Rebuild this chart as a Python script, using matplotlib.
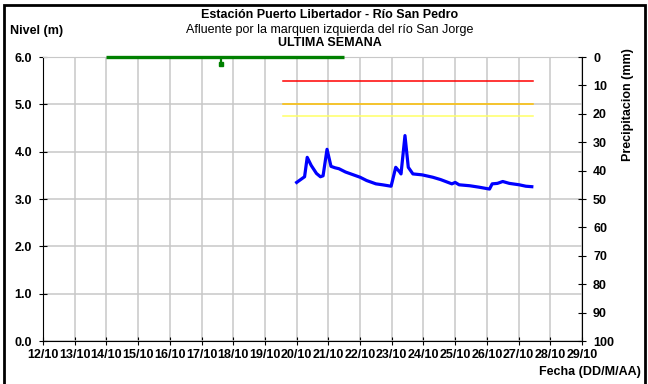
import pandas as pd
import matplotlib
matplotlib.use("Agg")
import matplotlib.pyplot as plt
import matplotlib.dates as mdates
from matplotlib.patches import Rectangle

plt.rcParams["font.family"] = ["Liberation Sans", "DejaVu Sans"]

# Nivel del rio (m)
nivel_fechas = [
    "2020-10-20 00:00", "2020-10-20 06:00", "2020-10-20 08:00", "2020-10-20 11:00",
    "2020-10-20 15:00", "2020-10-20 18:00", "2020-10-20 20:00", "2020-10-20 23:00",
    "2020-10-21 02:00", "2020-10-21 05:00", "2020-10-21 08:00", "2020-10-21 13:00",
    "2020-10-21 17:00", "2020-10-22 00:00", "2020-10-22 05:00", "2020-10-22 12:00",
    "2020-10-22 17:00", "2020-10-22 23:30", "2020-10-23 03:00", "2020-10-23 06:00",
    "2020-10-23 07:00", "2020-10-23 10:00", "2020-10-23 12:30", "2020-10-23 16:00",
    "2020-10-23 23:00", "2020-10-24 07:00", "2020-10-24 13:00", "2020-10-24 21:30",
    "2020-10-25 00:00", "2020-10-25 03:00", "2020-10-25 11:00", "2020-10-25 18:00",
    "2020-10-26 02:00", "2020-10-26 04:00", "2020-10-26 08:00", "2020-10-26 12:00",
    "2020-10-26 17:00", "2020-10-27 00:30", "2020-10-27 05:30", "2020-10-27 10:00",
]
nivel_m = [
    3.35, 3.47, 3.88, 3.71, 3.54, 3.47, 3.49, 4.05,
    3.69, 3.66, 3.64, 3.57, 3.53, 3.46, 3.39, 3.32,
    3.30, 3.27, 3.67, 3.57, 3.53, 4.34, 3.67, 3.53,
    3.51, 3.46, 3.41, 3.32, 3.35, 3.30, 3.28, 3.25,
    3.21, 3.32, 3.33, 3.37, 3.33, 3.30, 3.27, 3.26,
]

# Precipitacion (mm)
precip_fechas = ["2020-10-14 00:00", "2020-10-17 14:45", "2020-10-21 12:00"]
precip_mm = [0.0, 2.5, 0.0]

# Umbrales de alerta (m)
umbral_inicio = "2020-10-19 14:00"
umbral_fin = "2020-10-27 11:00"
umbrales = [5.5, 5.0, 4.75]
umbral_colores = ["#ff0000", "#ffc000", "#ffff66"]

# Eje de fechas
fecha_min = "2020-10-12"
fecha_max = "2020-10-29"

nivel_fechas = pd.to_datetime(nivel_fechas)
precip_fechas = pd.to_datetime(precip_fechas)

fig = plt.figure(figsize=(6.48, 3.84), dpi=100)
ax = fig.add_axes([43 / 648, 1 - 341 / 384, (582 - 43) / 648, (341 - 57) / 384])

GRID = "#c8c8c8"

for nivel, color in zip(umbrales, umbral_colores):
    ax.plot(pd.to_datetime([umbral_inicio, umbral_fin]), [nivel, nivel], color=color, lw=1.1, zorder=3)

ax.plot(nivel_fechas, nivel_m, color="#0000ff", lw=2.3, solid_joinstyle="round", zorder=4)

ax.set_xlim(pd.Timestamp(fecha_min), pd.Timestamp(fecha_max))
ax.set_ylim(0, 6)
ax.set_yticks([0, 1, 2, 3, 4, 5, 6])
ax.yaxis.set_major_formatter(plt.FormatStrFormatter("%.1f"))
ax.xaxis.set_major_locator(mdates.DayLocator())
ax.xaxis.set_major_formatter(mdates.DateFormatter("%d/%m"))
ax.grid(True, color=GRID, lw=1.1)
ax.set_axisbelow(True)
ax.tick_params(axis="both", direction="inout", length=6, width=0.8, labelsize=9, pad=3)
ax.tick_params(axis="y", pad=5)
for lab in ax.get_xticklabels() + ax.get_yticklabels():
    lab.set_fontweight("bold")
ax.spines["top"].set_color(GRID)
ax.spines["right"].set_visible(False)
for s in ["left", "bottom"]:
    ax.spines[s].set_linewidth(0.8)

# Eje secundario de precipitacion, invertido
ax2 = ax.twinx()
ax2.set_ylim(100, 0)
ax2.set_yticks(range(0, 101, 10))
ax2.tick_params(axis="y", direction="inout", length=6, width=0.8, labelsize=9, pad=5)
for lab in ax2.get_yticklabels():
    lab.set_fontweight("bold")
ax2.spines["right"].set_linewidth(0.8)
ax2.spines["top"].set_visible(False)
ax2.spines["left"].set_visible(False)
ax2.spines["bottom"].set_visible(False)

ax2.plot([precip_fechas[0], precip_fechas[-1]], [0, 0], color="#008000", lw=2.4,
         solid_capstyle="butt", clip_on=False, zorder=5)
ax2.vlines(precip_fechas, 0, precip_mm, color="#008000", lw=1.6, clip_on=False, zorder=5)
ax2.plot(precip_fechas[[m > 0 for m in precip_mm]],
         [m for m in precip_mm if m > 0], "s", color="#008000", ms=2.5, clip_on=False, zorder=5)

# Titulos y etiquetas
fig.text(330 / 648, 1 - 15 / 384, "Estación Puerto Libertador - Río San Pedro",
         ha="center", va="center", fontsize=9, fontweight="bold")
fig.text(330 / 648, 1 - 30 / 384, "Afluente por la marquen izquierda del río San Jorge",
         ha="center", va="center", fontsize=9)
fig.text(330 / 648, 1 - 43 / 384, "ULTIMA SEMANA",
         ha="center", va="center", fontsize=9, fontweight="bold")
fig.text(10 / 648, 1 - 31 / 384, "Nivel (m)", ha="left", va="center",
         fontsize=9, fontweight="bold")
fig.text(628 / 648, 1 - 105 / 384, "Precipitacion (mm)", ha="center", va="center",
         rotation=90, fontsize=9, fontweight="bold")
fig.text(641 / 648, 1 - 372 / 384, "Fecha (DD/M/AA)", ha="right", va="center",
         fontsize=9, fontweight="bold")

# Marco exterior
fig.patches.append(Rectangle((4 / 648, -0.05), (645 - 4) / 648, 1.05 - 5 / 384,
                             transform=fig.transFigure, fill=False,
                             edgecolor="black", lw=2, zorder=10))

fig.savefig("out.png", dpi=100)
